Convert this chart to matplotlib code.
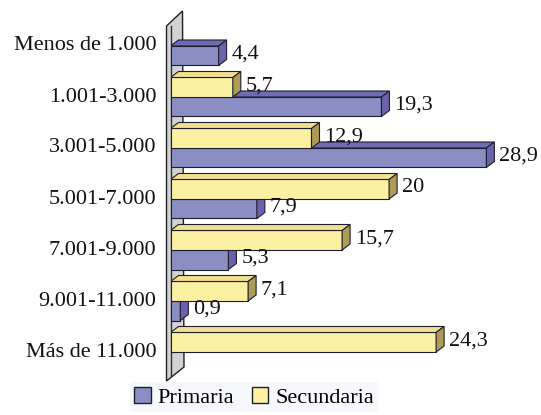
import matplotlib.pyplot as plt
from matplotlib.patches import Polygon, Patch

plt.rcParams['font.family'] = ['Liberation Serif', 'DejaVu Serif']

# Data
categories = ['Menos de 1.000', '1.001-3.000', '3.001-5.000', '5.001-7.000',
              '7.001-9.000', '9.001-11.000', 'Más de 11.000']
primaria = [4.4, 19.3, 28.9, 7.9, 5.3, 0.9, None]
secundaria = [None, 5.7, 12.9, 20, 15.7, 7.1, 24.3]

# Colours: front, top, side
prim_colors = ('#8a8ec2', '#716bb4', '#6a62ad')
sec_colors = ('#fcf0a2', '#f2e08e', '#ae9b55')

W, H = 541, 415
fig = plt.figure(figsize=(W / 100, H / 100), dpi=100)

# axes placed in pixels
px_left, px_right, px_top, px_bot = 170.5, 530, 0, 390
ax = fig.add_axes([px_left / W, 1 - px_bot / H, (px_right - px_left) / W, (px_bot - px_top) / H])
x_scale = 10.93   # px per unit
y_scale = 51.0    # px per category
ax.set_xlim(0, (px_right - px_left) / x_scale)
ax.set_ylim((px_bot - 46) / y_scale, -46 / y_scale)
ax.axis('off')

bar_h = 19.5 / y_scale
dx = 8 / x_scale
dy = -6 / y_scale
fs = 16

# back wall
wall = Polygon([(-4 / x_scale, -20 / y_scale), (12 / x_scale, -35 / y_scale),
                (13.5 / x_scale, 321 / y_scale), (-4 / x_scale, 335 / y_scale)],
               closed=True, facecolor='#d2d2d4', edgecolor='#202020', lw=1.0,
               zorder=1, clip_on=False)
ax.add_patch(wall)
ax.plot([0, 0], [-20 / y_scale, 329 / y_scale], color='#303030', lw=1.0, zorder=1.5, clip_on=False)


def bar3d(val, y_top, colors, z):
    y_bot = y_top + bar_h
    ax.barh(y_top + bar_h / 2, val, height=bar_h, left=0, color=colors[0],
            edgecolor='#1e1e2e', lw=0.8, zorder=z)
    top = Polygon([(0, y_top), (val, y_top), (val + dx, y_top + dy), (dx, y_top + dy)],
                  closed=True, facecolor=colors[1], edgecolor='#1e1e2e', lw=0.8, zorder=z)
    side = Polygon([(val, y_top), (val + dx, y_top + dy), (val + dx, y_bot + dy), (val, y_bot)],
                   closed=True, facecolor=colors[2], edgecolor='#1e1e2e', lw=0.8, zorder=z)
    ax.add_patch(top)
    ax.add_patch(side)
    ax.annotate(f'{val:g}'.replace('.', ','), (val + dx, y_top + bar_h / 2 + dy / 4),
                xytext=(3.5, 0), textcoords='offset points', va='center', ha='left',
                fontsize=fs, color='#111111', zorder=50)


n = len(categories)
for i in range(n - 1, -1, -1):
    z = 2 + (n - i) * 2
    if primaria[i] is not None:
        bar3d(primaria[i], i, prim_colors, z)
    if secundaria[i] is not None:
        bar3d(secundaria[i], i - bar_h, sec_colors, z + 1)

for i, cat in enumerate(categories):
    ax.text(-14 / x_scale, i, cat, ha='right', va='center', fontsize=fs, color='#111111')

handles = [Patch(facecolor=prim_colors[0], edgecolor='#1e1e2e', label='Primaria'),
           Patch(facecolor=sec_colors[0], edgecolor='#1e1e2e', label='Secundaria')]
leg = fig.legend(handles=handles, loc='lower center', bbox_to_anchor=(254 / W, -0.02),
                 ncol=2, frameon=True, fancybox=False, fontsize=fs,
                 handlelength=0.75, handleheight=0.75, handletextpad=0.3,
                 columnspacing=0.8, borderpad=0.2)
leg.get_frame().set_facecolor('#f5f7fb')
leg.get_frame().set_edgecolor('none')

fig.savefig('out.png', dpi=100)
